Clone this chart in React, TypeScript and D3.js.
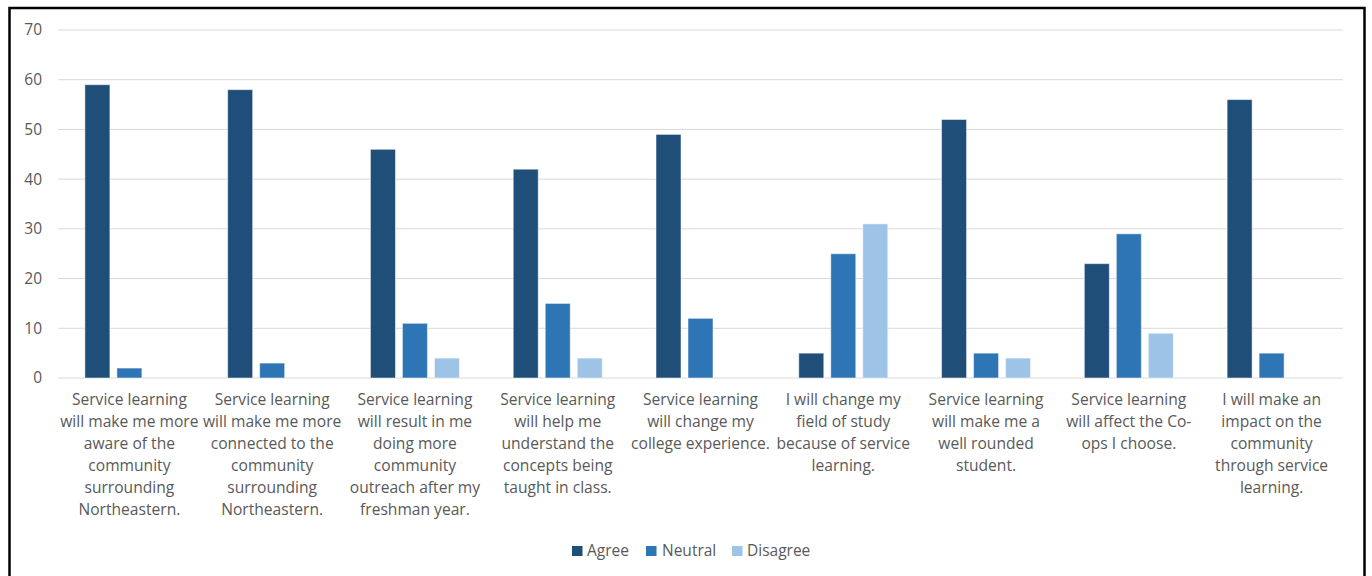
import React from "react";
import * as d3 from "d3";

// Survey statements (pre-wrapped into display lines)
const categories: string[][] = [
  ["Service learning", "will make me more", "aware of the", "community", "surrounding", "Northeastern."],
  ["Service learning", "will make me more", "connected to the", "community", "surrounding", "Northeastern."],
  ["Service learning", "will result in me", "doing more", "community", "outreach after my", "freshman year."],
  ["Service learning", "will help me", "understand the", "concepts being", "taught in class."],
  ["Service learning", "will change my", "college experience."],
  ["I will change my", "field of study", "because of service", "learning."],
  ["Service learning", "will make me a", "well rounded", "student."],
  ["Service learning", "will affect the Co-", "ops I choose."],
  ["I will make an", "impact on the", "community", "through service", "learning."],
];

const seriesNames = ["Agree", "Neutral", "Disagree"];
const agree = [59, 58, 46, 42, 49, 5, 52, 23, 56];
const neutral = [2, 3, 11, 15, 12, 25, 5, 29, 5];
const disagree = [0, 0, 4, 4, 0, 31, 4, 9, 0];
const seriesValues = [agree, neutral, disagree];
const seriesColors = ["#1f4e79", "#2e75b6", "#9dc3e6"];
const yTicks = [0, 10, 20, 30, 40, 50, 60, 70];

const W = 1372;
const H = 576;
const FONT = "'Open Sans', 'Noto Sans', sans-serif";
const TEXT = "#595959";

export default function App() {
  const plotLeft = 58;
  const plotRight = 1343;
  const y = d3.scaleLinear().domain([0, 70]).range([378, 30]);
  const x0 = d3
    .scaleBand<number>()
    .domain(categories.map((_, i) => i))
    .range([plotLeft, plotRight])
    .padding(0);
  const groupW = 89;
  const x1 = d3
    .scaleBand<string>()
    .domain(seriesNames)
    .range([0, groupW])
    .paddingInner(0.21875)
    .paddingOuter(0);

  const legendItems = [
    { name: "Agree", sq: 572, tx: 587 },
    { name: "Neutral", sq: 646, tx: 662 },
    { name: "Disagree", sq: 732, tx: 747 },
  ];

  return (
    <div style={{ position: "absolute", left: 0, top: 0 }}>
      <svg width={W} height={H} style={{ display: "block", background: "#fff" }}>
        <rect x={0} y={0} width={W} height={H} fill="#fff" />
        {/* gridlines */}
        {yTicks.map((t) => (
          <line
            key={t}
            x1={plotLeft}
            x2={plotRight}
            y1={y(t)}
            y2={y(t)}
            stroke="#d9d9d9"
            strokeWidth={1}
          />
        ))}
        {/* y tick labels */}
        {yTicks.map((t) => (
          <text
            key={"t" + t}
            x={42}
            y={y(t)}
            dy="0.35em"
            textAnchor="end"
            fontFamily={FONT}
            fontSize={15.5}
            fill={TEXT}
          >
            {t}
          </text>
        ))}
        {/* bars */}
        {categories.map((_, i) => {
          const cx = (x0(i) as number) + x0.bandwidth() / 2;
          const gx = cx - groupW / 2;
          return seriesNames.map((s, si) => {
            const v = seriesValues[si][i];
            if (v <= 0) return null;
            return (
              <rect
                key={i + s}
                x={gx + (x1(s) as number)}
                y={y(v)}
                width={x1.bandwidth()}
                height={y(0) - y(v)}
                fill={seriesColors[si]}
                stroke="#ffffff"
                strokeOpacity={0.5}
                strokeWidth={1}
              />
            );
          });
        })}
        {/* category labels */}
        {categories.map((lines, i) => {
          const cx = (x0(i) as number) + x0.bandwidth() / 2;
          return (
            <text
              key={"c" + i}
              textAnchor="middle"
              fontFamily={FONT}
              fontSize={15.6}
              fill={TEXT}
            >
              {lines.map((ln, li) => (
                <tspan key={li} x={cx} y={400 + li * 22} dy="0.35em">
                  {ln}
                </tspan>
              ))}
            </text>
          );
        })}
        {/* legend */}
        {legendItems.map((it, i) => (
          <g key={it.name}>
            <rect x={it.sq} y={546} width={10.5} height={10} fill={seriesColors[i]} />
            <text
              x={it.tx}
              y={551}
              dy="0.35em"
              fontFamily={FONT}
              fontSize={15.5}
              fill={TEXT}
            >
              {it.name}
            </text>
          </g>
        ))}
        {/* outer frame */}
        <rect x={9.5} y={8} width={1355} height={620} fill="none" stroke="#000" strokeWidth={2.5} />
      </svg>
    </div>
  );
}
